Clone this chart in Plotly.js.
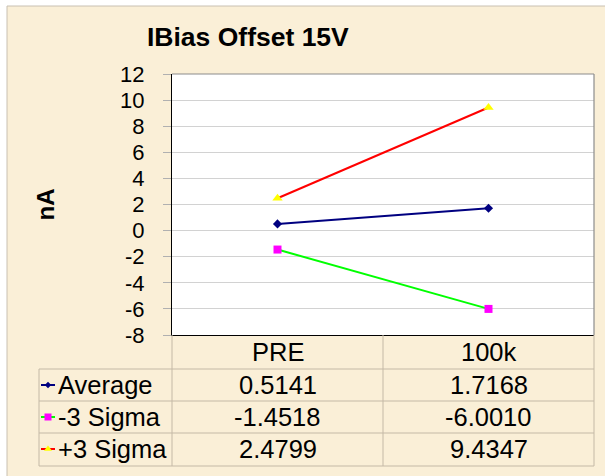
<!DOCTYPE html>
<html>
<head>
<meta charset="utf-8">
<script src="https://cdn.plot.ly/plotly-3.0.1.min.js"></script>
<style>html,body{margin:0;padding:0;background:#fff;}#chart{width:605px;height:476px;}</style>
</head>
<body>
<div id="chart"></div>
<script>
// ---- data ----
const categories = ['PRE', '100k'];
const seriesNames = ['Average', '-3 Sigma', '+3 Sigma'];
const average = [0.5141, 1.7168];
const minus3Sigma = [-1.4518, -6.0010];
const plus3Sigma = [2.4799, 9.4347];
const yTickVals = [-8, -6, -4, -2, 0, 2, 4, 6, 8, 10, 12];
const yTickText = ['-8', '-6', '-4', '-2', '0', '2', '4', '6', '8', '10', '12'];
const yRange = [-8, 12];
const chartTitle = 'IBias Offset 15V';
const yTitle = 'nA';

// ---- layout geometry (pixels) ----
const W = 605, H = 476;
const PL = 172, PR = 594, PT = 74, PB = 335;
const TL = 39;
const headerCenter = 352;
const rowLines = [369, 401, 433, 466];
const rowCenters = [385, 417, 449];
const px = x => x / W;
const py = y => 1 - y / H;

const FONT = 'Liberation Sans, Arial, sans-serif';
const bg = '#FAEFD7';
const tableLine = '#C4B9A6';
const TFS = 25.5;

const styles = [
  {line: '#000080', marker: '#000080', symbol: 'diamond', size: 7},
  {line: '#00FF00', marker: '#FF00FF', symbol: 'square', size: 8},
  {line: '#FF0000', marker: '#FFFF00', symbol: 'triangle-up', size: 9}
];
const seriesValues = [average, minus3Sigma, plus3Sigma];

const traces = seriesValues.map((vals, i) => ({
  type: 'scatter', mode: 'lines+markers', name: seriesNames[i],
  x: categories, y: vals, xaxis: 'x', yaxis: 'y',
  line: {color: styles[i].line, width: 2},
  marker: {color: styles[i].marker, symbol: styles[i].symbol, size: styles[i].size, line: {width: 0}},
  showlegend: false, hoverinfo: 'skip', cliponaxis: false
}));

// legend swatches in the table (overlay axes in page pixels)
seriesValues.forEach((vals, i) => {
  traces.push({
    type: 'scatter', mode: 'lines', x: [41, 55], y: [rowCenters[i], rowCenters[i]],
    xaxis: 'x2', yaxis: 'y2', line: {color: styles[i].line, width: 2},
    showlegend: false, hoverinfo: 'skip'
  });
  traces.push({
    type: 'scatter', mode: 'markers', x: [48], y: [rowCenters[i]],
    xaxis: 'x2', yaxis: 'y2',
    marker: {color: styles[i].marker, symbol: styles[i].symbol, size: i === 0 ? 5 : 7, line: {width: 0}},
    showlegend: false, hoverinfo: 'skip'
  });
});

const colX = [0, 1, 2].map(k => px(PL) + k / 2 * (px(PR) - px(PL)));

const shapes = [
  // chart area background & border
  {type: 'rect', xref: 'paper', yref: 'paper', x0: px(7), x1: 1, y0: 0, y1: py(6), fillcolor: bg, line: {width: 0}, layer: 'below'},
  {type: 'line', xref: 'paper', yref: 'paper', x0: px(7), x1: px(7), y0: 0, y1: py(6), line: {color: '#C8C0B2', width: 1}, layer: 'below'},
  {type: 'line', xref: 'paper', yref: 'paper', x0: px(7), x1: 1, y0: py(6), y1: py(6), line: {color: '#C8C0B2', width: 1}, layer: 'below'},
  // plot area
  {type: 'rect', xref: 'paper', yref: 'paper', x0: px(PL), x1: px(PR), y0: py(PB), y1: py(PT), fillcolor: '#FFFFFF', line: {width: 0}, layer: 'below'},
  {type: 'line', xref: 'paper', yref: 'paper', x0: px(PL), x1: px(PR), y0: py(PT), y1: py(PT), line: {color: '#8C8C8C', width: 1.2}},
  {type: 'line', xref: 'paper', yref: 'paper', x0: px(PR), x1: px(PR), y0: py(PT), y1: py(PB), line: {color: '#8C8C8C', width: 1.2}}
];
// table vertical lines
colX.forEach(x => shapes.push({type: 'line', xref: 'paper', yref: 'paper', x0: x, x1: x, y0: py(PB), y1: py(rowLines[3]), line: {color: tableLine, width: 1}}));
shapes.push({type: 'line', xref: 'paper', yref: 'paper', x0: px(TL), x1: px(TL), y0: py(rowLines[0]), y1: py(rowLines[3]), line: {color: tableLine, width: 1}});
rowLines.forEach(y => shapes.push({type: 'line', xref: 'paper', yref: 'paper', x0: px(TL), x1: px(PR), y0: py(y), y1: py(y), line: {color: tableLine, width: 1}}));

const annotations = [];
// column headers (categories)
categories.forEach(c => annotations.push({xref: 'x', yref: 'paper', x: c, y: py(headerCenter), xanchor: 'center', yanchor: 'middle',
  text: c, showarrow: false, font: {family: FONT, size: TFS, color: '#000'}}));
seriesNames.forEach((name, i) => {
  annotations.push({xref: 'paper', yref: 'paper', x: px(56), y: py(rowCenters[i]), xanchor: 'left', yanchor: 'middle',
    text: name, showarrow: false, font: {family: FONT, size: TFS, color: '#000'}});
  seriesValues[i].forEach((v, j) => {
    annotations.push({xref: 'x', yref: 'paper', x: categories[j], y: py(rowCenters[i]), xanchor: 'center', yanchor: 'middle',
      text: v.toFixed(4), showarrow: false, font: {family: FONT, size: TFS, color: '#000'}});
  });
});

const layout = {
  width: W, height: H,
  margin: {l: 0, r: 0, t: 0, b: 0, autoexpand: false},
  paper_bgcolor: '#FFFFFF',
  plot_bgcolor: 'rgba(0,0,0,0)',
  showlegend: false,
  title: {text: chartTitle, x: px(147), xanchor: 'left', xref: 'paper', y: py(37), yanchor: 'middle', yref: 'paper',
    font: {family: FONT, size: 26.5, weight: 'bold', color: '#000'}},
  xaxis: {
    domain: [px(PL), px(PR)], anchor: 'y', type: 'category', range: [-0.5, 1.5],
    showline: true, linecolor: '#000', linewidth: 1, ticks: '', showgrid: false, zeroline: false,
    showticklabels: false, automargin: false, fixedrange: true
  },
  yaxis: {
    domain: [py(PB), py(PT)], anchor: 'x', range: yRange, tickmode: 'array', tickvals: yTickVals, ticktext: yTickText,
    showline: true, linecolor: '#000', linewidth: 1, ticks: 'outside', ticklen: 8, tickcolor: '#B0B0B0',
    showgrid: true, gridcolor: '#D2D2D2', gridwidth: 1, zeroline: false,
    tickfont: {family: FONT, size: 22, color: '#000'}, ticklabelstandoff: 14,
    title: {text: yTitle, font: {family: FONT, size: 24, weight: 'bold', color: '#000'}, standoff: 58},
    automargin: false, fixedrange: true
  },
  xaxis2: {domain: [0, 1], anchor: 'y2', range: [0, W], visible: false, fixedrange: true},
  yaxis2: {domain: [0, 1], anchor: 'x2', range: [H, 0], visible: false, fixedrange: true},
  shapes: shapes,
  annotations: annotations
};

Plotly.newPlot('chart', traces, layout, {staticPlot: true, displayModeBar: false});
</script>
</body>
</html>
